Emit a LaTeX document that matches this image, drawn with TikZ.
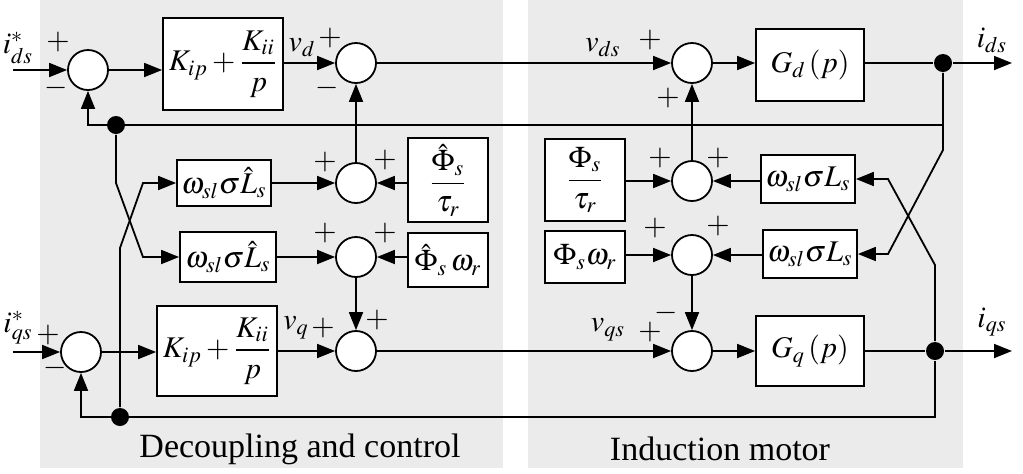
\documentclass[tikz,border=0pt]{standalone}
\usepackage{amsmath}
\usepackage{mathptmx}
\usepackage{fontspec}
\setmainfont{Liberation Serif}
\usetikzlibrary{arrows.meta}
\definecolor{panelgray}{RGB}{235,235,235}

\begin{document}
\begin{tikzpicture}[x=0.5pt, y=-0.5pt, line width=0.9pt,
    font=\fontsize{15}{18}\selectfont,
    sumnode/.style={circle, draw, fill=white, minimum size=20pt, inner sep=0pt},
    blockbox/.style={draw, fill=white, inner sep=1pt},
    sig/.style={inner sep=0pt},
    arr/.style={-{Triangle[length=9pt,width=7pt]}},
    dotnode/.style={circle, fill, minimum size=9pt, inner sep=0pt}]
    \useasboundingbox (0,0) rectangle (1023,473);
    % two shaded panels
    \fill[panelgray] (40,0) rectangle (503,468);
    \fill[panelgray] (528,0) rectangle (963,468);

    % d axis
    \coordinate (ind) at (13,70);
    \node[sumnode] (sd1) at (88,70) {};
    \node[blockbox, minimum width=60pt, minimum height=46pt] (kd) at (223,64) {$K_{ip}+\dfrac{K_{ii}}{p}$};
    \node[sumnode] (sd2) at (356,63) {};
    \node[sumnode] (sd3) at (692,63) {};
    \node[blockbox, minimum width=54pt, minimum height=36pt] (gd) at (810,65) {$G_d\left(p\right)$};
    \node[dotnode] (dd) at (943,63) {};
    \coordinate (outd) at (1012,63);
    \node[dotnode] (n1) at (116,125) {};

    % decoupling terms
    \node[blockbox, minimum width=47pt, minimum height=23pt] (lsa) at (224,183) {$\omega_{sl}\sigma\hat{L}_s$};
    \node[blockbox, minimum width=48pt, minimum height=25pt] (lsb) at (228,257) {$\omega_{sl}\sigma\hat{L}_s$};
    \node[sumnode] (sd4) at (356,183) {};
    \node[sumnode] (sd5) at (356,257) {};
    \node[blockbox, minimum width=40pt, minimum height=42pt] (pha) at (448,180) {$\dfrac{\hat{\Phi}_s}{\tau_r}$};
    \node[blockbox, minimum width=40pt, minimum height=27pt] (phb) at (448,260) {$\hat{\Phi}_s\,\omega_r$};
    \node[blockbox, minimum width=40pt, minimum height=41pt] (phc) at (585,180) {$\dfrac{\Phi_s}{\tau_r}$};
    \node[blockbox, minimum width=40pt, minimum height=26pt] (phd) at (585,257) {$\Phi_s\omega_r$};
    \node[sumnode] (sd7) at (692,181) {};
    \node[sumnode] (sd8) at (692,255) {};
    \node[blockbox, minimum width=47pt, minimum height=24pt] (lsc) at (808,179) {$\omega_{sl}\sigma L_s$};
    \node[blockbox, minimum width=47pt, minimum height=24pt] (lsd) at (810,254) {$\omega_{sl}\sigma L_s$};

    % q axis
    \coordinate (inq) at (13,352);
    \node[sumnode] (sq1) at (81,352) {};
    \node[blockbox, minimum width=60pt, minimum height=45pt] (kq) at (217,351) {$K_{ip}+\dfrac{K_{ii}}{p}$};
    \node[sumnode] (sq2) at (356,351) {};
    \node[sumnode] (sq3) at (692,351) {};
    \node[blockbox, minimum width=54pt, minimum height=35pt] (gq) at (810,351) {$G_q\left(p\right)$};
    \node[dotnode] (dq) at (935,351) {};
    \coordinate (outq) at (1012,351);
    \node[dotnode] (n2) at (120,417) {};

    % forward paths
    \draw[arr] (ind) -- (sd1);
    \draw[arr] (sd1) -- (sd1 -| kd.west);
    \draw[arr] (kd.east |- sd2) -- (sd2);
    \draw[arr] (sd2) -- (sd3);
    \draw[arr] (sd3) -- (sd3 -| gd.west);
    \draw (gd.east |- dd) -- (dd);
    \draw[arr] (dd) -- (outd);
    \draw[arr] (inq) -- (sq1);
    \draw[arr] (sq1) -- (sq1 -| kq.west);
    \draw[arr] (kq.east |- sq2) -- (sq2);
    \draw[arr] (sq2) -- (sq3);
    \draw[arr] (sq3) -- (sq3 -| gq.west);
    \draw (gq) -- (dq);
    \draw[arr] (dq) -- (outq);

    % feedback and cross coupling
    \draw[arr] (943,125) -- (88,125) -- (sd1);
    \draw[arr] (dq) -- (935,417) -- (81,417) -- (sq1);
    \draw[arr] (n1) -- (116,183) -- (143,257) -- (lsb);
    \draw[arr] (n2) -- (120,248) -- (143,183) -- (lsa);
    \draw[arr] (dd) -- (943,150) -- (888,254) -- (lsd);
    \draw[arr] (dq) -- (935,265) -- (888,179) -- (lsc);

    \draw[arr] (lsa) -- (sd4);
    \draw[arr] (pha.west |- sd4) -- (sd4);
    \draw[arr] (sd4) -- (sd2);
    \draw[arr] (lsb) -- (sd5);
    \draw[arr] (phb.west |- sd5) -- (sd5);
    \draw[arr] (sd5) -- (sq2);
    \draw[arr] (phc.east |- sd7) -- (sd7);
    \draw[arr] (lsc.west |- sd7) -- (sd7);
    \draw[arr] (sd7) -- (sd3);
    \draw[arr] (phd.east |- sd8) -- (sd8);
    \draw[arr] (lsd.west |- sd8) -- (sd8);
    \draw[arr] (sd8) -- (sq3);

    % signal labels
    \node (lidsref) at (18,48) {$i_{ds}^{*}$};
    \node (liqsref) at (18,328) {$i_{qs}^{*}$};
    \node (lvd) at (302,48) {$v_d$};
    \node (lvds) at (603,48) {$v_{ds}$};
    \node (lvq) at (296,328) {$v_q$};
    \node (lvqs) at (608,330) {$v_{qs}$};
    \node (lids) at (992,40) {$i_{ds}$};
    \node (liqs) at (992,322) {$i_{qs}$};

    % signs at the summing points
    \foreach \x/\y/\s [count=\i] in {58/42/+, 56/88/-, 330/38/+, 327/88/-, 650/40/+, 668/98/+,
        325/162/+, 385/160/+, 325/233/+, 385/233/+, 660/158/+, 718/158/+, 655/228/+, 718/226/+,
        48/335/+, 55/368/-, 323/328/+, 377/320/+, 650/332/+, 666/313/-}
        \node[sig] (sg\i) at (\x,\y) {$\s$};

    \node[font=\fontsize{17}{20}\selectfont] (ldec) at (300,449) {Decoupling and control};
    \node[font=\fontsize{17}{20}\selectfont] (lmot) at (720,449) {Induction motor};
\end{tikzpicture}
\end{document}
